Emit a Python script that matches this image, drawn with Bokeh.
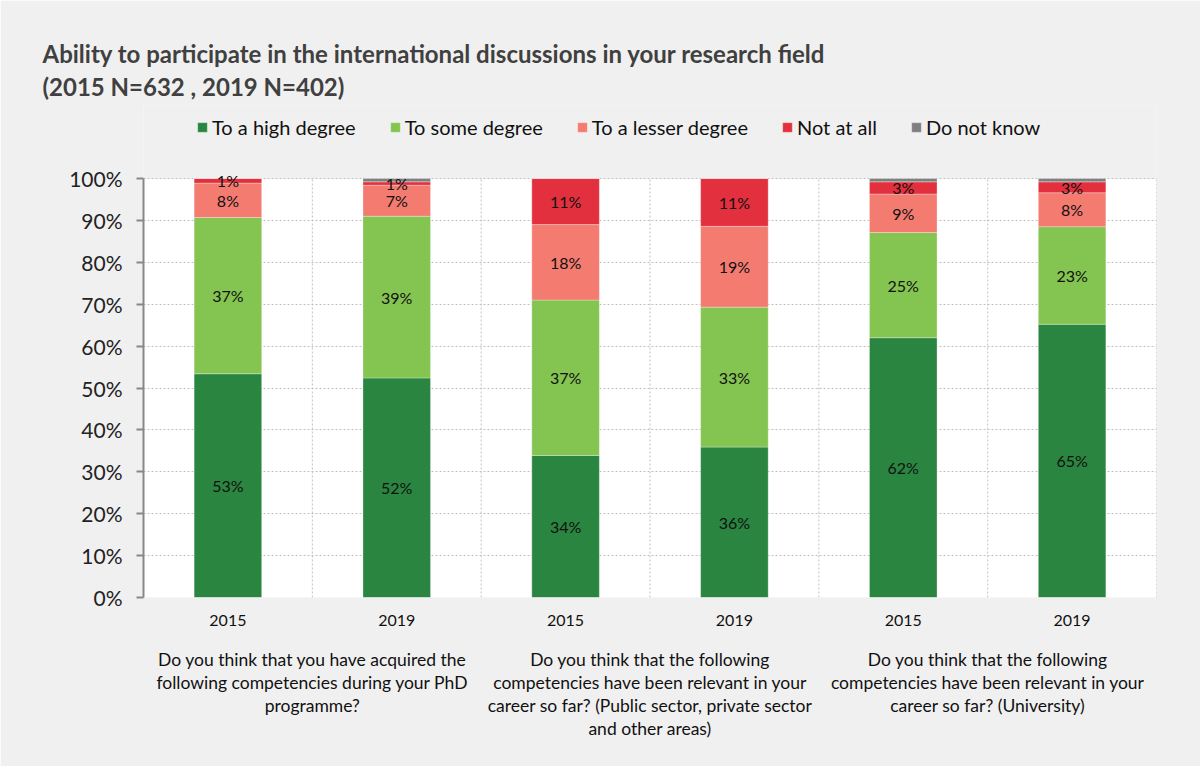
from bokeh.plotting import figure
from bokeh.models import (ColumnDataSource, FixedTicker, PrintfTickFormatter, LabelSet, Range1d,
                          Legend, LegendItem, LinearAxis, BoxAnnotation)
from bokeh.embed import file_html
from bokeh.resources import INLINE
from bokeh.core.properties import value

# ---------------- data ----------------
years = ["2015", "2019", "2015", "2019", "2015", "2019"]
group_labels = [
    "Do you think that you have acquired the\nfollowing competencies during your PhD\nprogramme?",
    "Do you think that the following\ncompetencies have been relevant in your\ncareer so far? (Public sector, private sector\nand other areas)",
    "Do you think that the following\ncompetencies have been relevant in your\ncareer so far? (University)",
]
series_names = ["To a high degree", "To some degree", "To a lesser degree", "Not at all", "Do not know"]
high = [53.4, 52.4, 33.9, 35.9, 62.0, 65.2]
some = [37.3, 38.6, 37.1, 33.4, 25.1, 23.3]
lesser = [8.2, 7.4, 18.0, 19.3, 9.2, 8.1]
not_at_all = [1.1, 0.8, 11.0, 11.4, 2.9, 2.6]
dont_know = [0.0, 0.8, 0.0, 0.0, 0.8, 0.8]
colors = ["#2a8540", "#84c451", "#f37b70", "#e3303e", "#7f7f7f"]
y_ticks = [0, 10, 20, 30, 40, 50, 60, 70, 80, 90, 100]
title_text = ("Ability to participate in the international discussions in your research field\n"
              "(2015 N=632 , 2019 N=402)")

FONT = "Lato"
BG = "#f0f0f0"
GRID = "#c0c0c0"

series = [high, some, lesser, not_at_all, dont_know]
keys = ["high", "some", "lesser", "notatall", "dontknow"]
n = len(years)
xs = [i + 0.5 for i in range(n)]
ymax = y_ticks[-1]

# layout (pixels)
W, H = 1200, 766
FRAME_L, FRAME_R, FRAME_T, FRAME_B = 143, 1156, 105, 597
Y100 = 178  # pixel row of the 100 % line
y_top = ymax * (FRAME_B - FRAME_T) / (FRAME_B - Y100)

data = dict(x=xs)
for k, s in zip(keys, series):
    data[k] = s
src = ColumnDataSource(data)

p = figure(width=W, height=H, output_backend="svg", toolbar_location=None,
           x_range=Range1d(0, n), y_range=Range1d(0, y_top),
           min_border_left=FRAME_L, min_border_right=W - FRAME_R,
           min_border_top=FRAME_T, min_border_bottom=H - FRAME_B)
p.background_fill_color = BG
p.border_fill_color = BG
p.outline_line_color = None

# white plotting area (0..100 %)
p.add_layout(BoxAnnotation(bottom=0, top=ymax, fill_color="white", fill_alpha=1,
                           line_color=None, level="image"))

# grids
p.ygrid.ticker = FixedTicker(ticks=y_ticks)
p.ygrid.grid_line_color = GRID
p.ygrid.grid_line_dash = "2 2"
p.xgrid.grid_line_color = None
vlines = [i + 1 for i in range(n)]
p.segment(x0=vlines, y0=[0] * n, x1=vlines, y1=[ymax] * n, line_color=GRID,
          line_dash="2 2", line_width=1, level="underlay")

rs = p.vbar_stack(keys, x="x", width=0.4, source=src, color=colors,
                  line_color="white", line_width=0.6, line_alpha=0.5)

# segment labels
lx, ly, lt = [], [], []
for i in range(n):
    base = 0.0
    for j, s in enumerate(series):
        v = s[i]
        if j < 4 and v > 0:
            lx.append(xs[i]); ly.append(base + v / 2); lt.append(f"{round(v)}%")
        base += v
lsrc = ColumnDataSource(dict(x=lx, y=ly, t=lt))
p.add_layout(LabelSet(x="x", y="y", text="t", source=lsrc, text_align="center",
                      text_baseline="middle", text_font=value(FONT), text_font_size=value("16px"),
                      text_color="#111111"))

# y axis
p.yaxis.bounds = (0, ymax)
p.yaxis.ticker = FixedTicker(ticks=y_ticks)
p.yaxis.formatter = PrintfTickFormatter(format="%d%%")
p.yaxis.axis_line_color = "#888888"
p.yaxis.axis_line_width = 2
p.yaxis.major_tick_line_color = "#888888"
p.yaxis.major_tick_line_width = 2
p.yaxis.major_tick_out = 7
p.yaxis.major_tick_in = 0
p.yaxis.minor_tick_line_color = None
p.yaxis.major_label_standoff = 14
p.yaxis.major_label_text_font = FONT
p.yaxis.major_label_text_font_size = "21px"
p.yaxis.major_label_text_color = "#222222"

# x axis (years)
p.xaxis.ticker = FixedTicker(ticks=xs)
p.xaxis.major_label_overrides = {x: y for x, y in zip(xs, years)}
p.xaxis.axis_line_color = None
p.xaxis.major_tick_line_color = None
p.xaxis.minor_tick_line_color = None
p.xaxis.major_label_standoff = 11
p.xaxis.major_label_text_font = FONT
p.xaxis.major_label_text_font_size = "16px"
p.xaxis.major_label_text_color = "#111111"

# second x axis (question groups)
gticks = [2 * gi + 1 for gi in range(len(group_labels))]
gax = LinearAxis(ticker=FixedTicker(ticks=gticks),
                 major_label_overrides={t: g for t, g in zip(gticks, group_labels)},
                 axis_line_color=None, major_tick_line_color=None, minor_tick_line_color=None,
                 major_label_standoff=14, major_label_text_font=FONT,
                 major_label_text_font_size="17.5px", major_label_text_color="#111111",
                 major_label_text_line_height=1.1)
p.add_layout(gax, "below")

# legend (inside the extended frame, above the 100 % line)
legend = Legend(items=[LegendItem(label=nm, renderers=[r]) for nm, r in zip(series_names, rs)],
                orientation="horizontal", location=(196 - FRAME_L, FRAME_B - 139),
                background_fill_alpha=0, border_line_color=None, padding=0, margin=0, spacing=33,
                glyph_width=12, glyph_height=12, label_standoff=4,
                label_text_font=FONT, label_text_font_size="20px", label_text_color="#111111")
p.add_layout(legend, "center")

# title
p.title.text = title_text
p.title.text_font = FONT
p.title.text_font_size = "24px"
p.title.text_font_style = "bold"
p.title.text_color = "#404040"
p.title.align = "left"
p.title.offset = 42 - FRAME_L
p.title.standoff = 9
p.title.text_line_height = 1.146

open("out.html", "w").write(file_html(p, INLINE))
